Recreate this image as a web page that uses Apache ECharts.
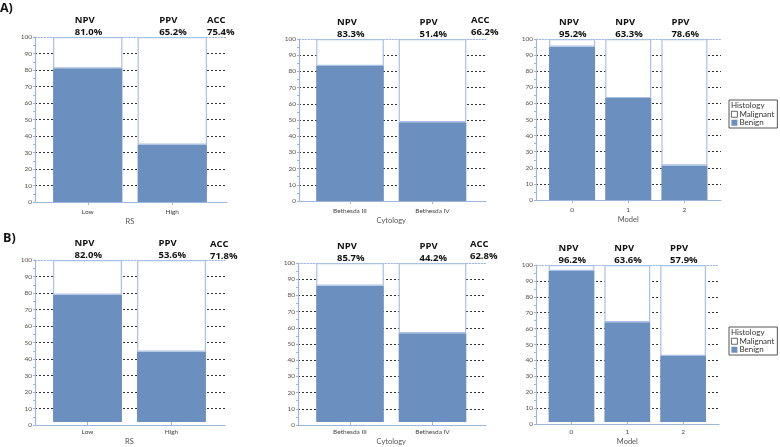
<!DOCTYPE html>
<html><head><meta charset="utf-8">
<script src="https://cdn.jsdelivr.net/npm/echarts@6/dist/echarts.min.js"></script>
<style>html,body{margin:0;padding:0;background:#fff}#c{width:780px;height:447px}</style>
</head><body><div id="c"></div>
<script>
// ---------------- data ----------------
const rsCategories = ['Low', 'High'];
const cytologyCategories = ['Bethesda III', 'Bethesda IV'];
const modelCategories = ['0', '1', '2'];

const benignA_RS = [81.0, 34.8];
const malignantA_RS = [19.0, 65.2];
const benignA_Cyto = [83.3, 48.6];
const malignantA_Cyto = [16.7, 51.4];
const benignA_Model = [95.2, 63.3, 21.4];
const malignantA_Model = [4.8, 36.7, 78.6];

const benignB_RS = [78.6, 43.4];
const malignantB_RS = [21.4, 56.6];
const benignB_Cyto = [85.7, 55.8];
const malignantB_Cyto = [14.3, 44.2];
const benignB_Model = [96.2, 63.6, 42.1];
const malignantB_Model = [3.8, 36.4, 57.9];

const metricsRS = ['NPV', 'PPV'];
const metricsCyto = ['NPV', 'PPV'];
const metricsModel = ['NPV', 'NPV', 'PPV'];
const valuesA_RS = ['81.0%', '65.2%'];
const valuesA_Cyto = ['83.3%', '51.4%'];
const valuesA_Model = ['95.2%', '63.3%', '78.6%'];
const valuesB_RS = ['82.0%', '53.6%'];
const valuesB_Cyto = ['85.7%', '44.2%'];
const valuesB_Model = ['96.2%', '63.6%', '57.9%'];
const accA = ['75.4%', '66.2%'];
const accB = ['71.8%', '62.8%'];

const axisNames = ['RS', 'Cytology', 'Model'];
const seriesNames = ['Malignant', 'Benign'];
const legendTitle = 'Histology';
const panelTags = ['A)', 'B)'];
const yMin = 0, yMax = 100, yStep = 10;

// ---------------- layout / style ----------------
const BLUE = '#6b8fbf';
const EDGE = '#a9c1e4';
const AXIS = '#9db6dc';
const DASH = '#333';
const FONT = 'Lato';
const BOLDFONT = 'Open Sans';

const panels = [
  {cats: rsCategories, benign: benignA_RS, malig: malignantA_RS, metrics: metricsRS, vals: valuesA_RS, acc: accA[0], name: axisNames[0],
   ax: [35, 227], top: 37, zero: 202, bars: [45.5, 214.5], accX: 207, accTop: 14.5},
  {cats: cytologyCategories, benign: benignA_Cyto, malig: malignantA_Cyto, metrics: metricsCyto, vals: valuesA_Cyto, acc: accA[1], name: axisNames[1],
   ax: [299, 486], top: 39, zero: 201, bars: [308.75, 473.75], accX: 471, accTop: 14.5},
  {cats: modelCategories, benign: benignA_Model, malig: malignantA_Model, metrics: metricsModel, vals: valuesA_Model, acc: null, name: axisNames[2],
   ax: [536, 721], top: 39, zero: 200, bars: [544, 712.5]},
  {cats: rsCategories, benign: benignB_RS, malig: malignantB_RS, metrics: metricsRS, vals: valuesB_RS, acc: accB[0], name: axisNames[0],
   ax: [35, 225], top: 260, zero: 425, bars: [45.5, 213.5], accX: 210, accTop: 238},
  {cats: cytologyCategories, benign: benignB_Cyto, malig: malignantB_Cyto, metrics: metricsCyto, vals: valuesB_Cyto, acc: accB[1], name: axisNames[1],
   ax: [298, 486], top: 263, zero: 425, bars: [308.75, 473.75], accX: 470, accTop: 238},
  {cats: modelCategories, benign: benignB_Model, malig: malignantB_Model, metrics: metricsModel, vals: valuesB_Model, acc: null, name: axisNames[2],
   ax: [536, 719], top: 265, zero: 424, bars: [543.6, 711]}
];

const grid = [], xAxis = [], yAxis = [], series = [], title = [], legend = [];
const nTicks = (yMax - yMin) / yStep + 1;
const splitColors = [];
for (let k = 0; k < nTicks; k++) splitColors.push(k === nTicks - 1 ? 'rgba(0,0,0,0)' : DASH);

const richLabel = {
  m: {fontFamily: BOLDFONT, fontWeight: 'bold', fontSize: 9.5, color: '#111', lineHeight: 12, width: 26, align: 'left'},
  v: {fontFamily: BOLDFONT, fontWeight: 'bold', fontSize: 9.5, color: '#111', lineHeight: 12, width: 26, align: 'left'}
};

panels.forEach((p, i) => {
  const h = p.zero - p.top;
  grid.push({left: p.ax[0], top: p.top, width: p.ax[1] - p.ax[0], height: h});
  grid.push({left: p.bars[0], top: p.top, width: p.bars[1] - p.bars[0], height: h});
  const gb = 2 * i, gf = 2 * i + 1;
  xAxis.push({gridIndex: gb, type: 'category', data: [''], position: 'bottom', offset: 4,
    axisLine: {lineStyle: {color: AXIS, width: 1.2}}, axisTick: {show: false}, axisLabel: {show: false}, splitLine: {show: false}});
  xAxis.push({gridIndex: gb, type: 'category', data: [''], position: 'top',
    axisLine: {lineStyle: {color: AXIS, width: 1, type: [1.5, 1.5]}}, axisTick: {show: false}, axisLabel: {show: false}, splitLine: {show: false}});
  xAxis.push({gridIndex: gf, type: 'category', data: p.cats, position: 'bottom', offset: 4,
    axisLine: {show: false}, axisTick: {show: true, alignWithLabel: true, length: 3, lineStyle: {color: AXIS}},
    axisLabel: {fontFamily: FONT, fontSize: 6.5, color: '#444', margin: 2},
    name: p.name, nameLocation: 'middle', nameGap: 12, nameTextStyle: {fontFamily: FONT, fontSize: 7.5, color: '#555'}});
  yAxis.push({gridIndex: gb, type: 'value', min: yMin, max: yMax, interval: yStep,
    axisLine: {show: true, lineStyle: {color: AXIS, width: 1.2}},
    axisTick: {show: true, length: 2, lineStyle: {color: AXIS}},
    minorTick: {show: true, splitNumber: 2, length: 2, lineStyle: {color: AXIS}},
    axisLabel: {fontFamily: FONT, fontSize: 6.5, color: '#5a5048', margin: 3},
    splitLine: {show: true, lineStyle: {color: splitColors, type: [2, 2], width: 1}}});
  yAxis.push({gridIndex: gf, type: 'value', min: yMin, max: yMax, show: false});
  const xi = 3 * i + 2, yi = 2 * i + 1;
  series.push({type: 'bar', name: seriesNames[1], xAxisIndex: xi, yAxisIndex: yi, stack: 's' + i,
    data: p.benign, barCategoryGap: '18%', itemStyle: {color: BLUE}});
  series.push({type: 'bar', name: seriesNames[0], xAxisIndex: xi, yAxisIndex: yi, stack: 's' + i,
    data: p.malig, barCategoryGap: '18%', itemStyle: {color: '#fff', borderColor: EDGE, borderWidth: 1.2},
    label: {show: true, position: 'top', distance: -1.5,
      formatter: (q) => '{m|' + p.metrics[q.dataIndex] + '}\n{v|' + p.vals[q.dataIndex] + '}',
      rich: richLabel}});
  if (p.acc) {
    title.push({left: p.accX, top: p.accTop, padding: 0,
      text: '{m|ACC}\n{v|' + p.acc + '}', textStyle: {rich: richLabel}});
  }
});

title.push({left: 0, top: 2, padding: 0, text: panelTags[0], textStyle: {fontFamily: BOLDFONT, fontWeight: 'bold', fontSize: 12.5, color: '#111'}});
title.push({left: 3, top: 232, padding: 0, text: panelTags[1], textStyle: {fontFamily: BOLDFONT, fontWeight: 'bold', fontSize: 12.5, color: '#111'}});

[100, 327].forEach((t) => {
  legend.push({orient: 'vertical', left: 729, top: t, padding: [10, 3, 1, 2], itemGap: 0, itemWidth: 6, itemHeight: 6,
    borderColor: '#555', borderWidth: 1, backgroundColor: '#fff', borderRadius: 0,
    textStyle: {fontFamily: FONT, fontSize: 8, color: '#333', lineHeight: 8.5, padding: [0, 0, 0, -3]},
    data: [
      {name: seriesNames[0], icon: 'rect', itemStyle: {color: '#fff', borderColor: '#444', borderWidth: 0.8}},
      {name: seriesNames[1], icon: 'rect', itemStyle: {color: BLUE, borderWidth: 0}}
    ]});
  title.push({left: 731, top: t + 1, padding: 0, text: legendTitle, textStyle: {fontFamily: FONT, fontSize: 8, fontWeight: 'normal', color: '#333'}});
});

const chart = echarts.init(document.getElementById('c'));
chart.setOption({animation: false, backgroundColor: '#fff', grid, xAxis, yAxis, series, title, legend});
</script>
</body></html>
